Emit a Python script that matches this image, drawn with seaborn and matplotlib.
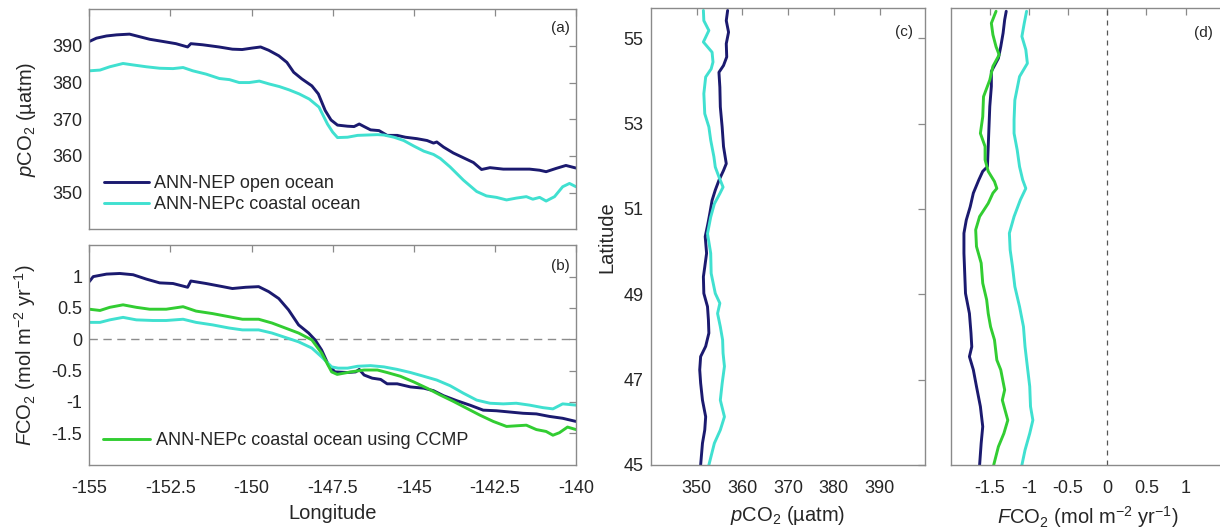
import numpy as np
import pandas as pd
import matplotlib
matplotlib.use("Agg")
import matplotlib.pyplot as plt
import seaborn as sns

# ---------------- data ----------------
# Panel (a): pCO2 along longitude
lon_open_a = [-155.00, -154.78, -154.47, -154.16, -153.76, -153.45, -153.14, -152.73, -152.33, -151.97,
              -151.87, -151.51, -151.00, -150.59, -150.29, -149.98, -149.72, -149.47, -149.16, -148.91,
              -148.70, -148.45, -148.14, -147.94, -147.73, -147.55, -147.35, -147.04, -146.84, -146.68,
              -146.53, -146.33, -146.07, -145.82, -145.51, -145.26, -144.90, -144.59, -144.39, -144.29,
              -144.08, -143.78, -143.47, -143.16, -142.91, -142.65, -142.24, -141.84, -141.43, -141.12,
              -140.92, -140.61, -140.31, -140.00]
pco2_open_a = [391.2, 392.1, 392.7, 393.0, 393.2, 392.5, 391.8, 391.2, 390.6, 389.7,
               390.6, 390.3, 389.7, 389.1, 389.0, 389.4, 389.7, 388.8, 387.3, 385.5,
               382.8, 381.0, 379.1, 376.9, 372.4, 369.8, 368.4, 368.1, 368.0, 368.7,
               368.0, 367.1, 366.9, 365.6, 365.6, 365.1, 364.7, 364.2, 363.5, 363.8,
               362.4, 360.8, 359.5, 358.2, 356.3, 356.8, 356.4, 356.4, 356.4, 356.1,
               355.7, 356.6, 357.4, 356.7]
lon_coast_a = [-155.00, -154.67, -154.37, -153.96, -153.65, -153.24, -152.83, -152.42, -152.11, -151.81,
               -151.40, -150.99, -150.68, -150.38, -150.07, -149.76, -149.45, -149.14, -148.84, -148.53,
               -148.22, -147.92, -147.66, -147.50, -147.35, -147.04, -146.73, -146.43, -146.12, -145.92,
               -145.61, -145.31, -145.00, -144.69, -144.39, -144.18, -143.88, -143.47, -143.06, -142.76,
               -142.45, -142.14, -141.84, -141.53, -141.33, -141.12, -140.92, -140.66, -140.41, -140.20,
               -140.00]
pco2_coast_a = [383.2, 383.4, 384.3, 385.2, 384.8, 384.3, 383.9, 383.8, 384.1, 383.2,
                382.3, 381.1, 380.8, 380.0, 380.0, 380.4, 379.6, 378.9, 378.0, 376.9,
                375.5, 373.3, 368.7, 366.5, 365.0, 365.1, 365.6, 365.7, 365.8, 365.7,
                365.1, 364.2, 362.7, 361.3, 360.4, 359.3, 357.0, 353.4, 350.3, 349.1,
                348.7, 348.0, 348.5, 348.9, 348.2, 348.7, 347.7, 348.9, 351.6, 352.5,
                351.6]

# Panel (b): FCO2 along longitude
lon_open_b = [-155.00, -154.88, -154.47, -154.06, -153.65, -153.24, -152.83, -152.42, -151.97, -151.87,
              -151.40, -150.89, -150.59, -150.18, -149.78, -149.47, -149.16, -148.86, -148.55, -148.24,
              -148.04, -147.84, -147.63, -147.43, -147.04, -146.79, -146.68, -146.53, -146.28, -146.02,
              -145.82, -145.51, -145.10, -144.69, -144.39, -144.08, -143.67, -143.27, -142.86, -142.45,
              -142.04, -141.63, -141.22, -140.82, -140.41, -140.00]
fco2_open_b = [0.92, 1.00, 1.04, 1.05, 1.03, 0.96, 0.90, 0.89, 0.83, 0.93,
               0.89, 0.84, 0.81, 0.83, 0.84, 0.76, 0.65, 0.47, 0.23, 0.10,
               -0.01, -0.17, -0.41, -0.52, -0.53, -0.52, -0.48, -0.57, -0.62, -0.64,
               -0.71, -0.71, -0.76, -0.78, -0.82, -0.90, -0.98, -1.05, -1.13, -1.14,
               -1.16, -1.18, -1.19, -1.23, -1.26, -1.31]
lon_coast_b = [-155.00, -154.67, -154.37, -153.96, -153.55, -153.04, -152.63, -152.11, -151.71, -151.20,
               -150.69, -150.28, -149.78, -149.37, -148.96, -148.55, -148.14, -147.84, -147.53, -147.33,
               -147.04, -146.73, -146.33, -145.92, -145.51, -145.10, -144.69, -144.29, -143.88, -143.47,
               -143.06, -142.65, -142.24, -141.84, -141.43, -141.02, -140.71, -140.41, -140.00]
fco2_coast_b = [0.27, 0.27, 0.31, 0.35, 0.31, 0.30, 0.30, 0.32, 0.27, 0.23,
                0.18, 0.15, 0.15, 0.10, 0.03, -0.04, -0.14, -0.28, -0.44, -0.46,
                -0.46, -0.43, -0.42, -0.44, -0.48, -0.53, -0.59, -0.65, -0.74, -0.86,
                -0.97, -1.02, -1.03, -1.02, -1.05, -1.09, -1.11, -1.03, -1.05]
lon_ccmp_b = [-155.00, -154.67, -154.37, -153.96, -153.55, -153.14, -152.63, -152.11, -151.71, -151.20,
              -150.69, -150.28, -149.78, -149.37, -148.96, -148.55, -148.14, -147.84, -147.53, -147.36,
              -146.94, -146.53, -146.12, -145.82, -145.41, -145.00, -144.59, -144.18, -143.78, -143.37,
              -142.96, -142.55, -142.14, -141.84, -141.53, -141.22, -140.92, -140.71, -140.51, -140.26,
              -140.00]
fco2_ccmp_b = [0.48, 0.46, 0.51, 0.55, 0.51, 0.48, 0.48, 0.52, 0.45, 0.41,
               0.36, 0.32, 0.32, 0.26, 0.18, 0.10, -0.01, -0.22, -0.52, -0.56,
               -0.52, -0.49, -0.49, -0.53, -0.59, -0.68, -0.78, -0.89, -0.99, -1.10,
               -1.21, -1.31, -1.39, -1.38, -1.37, -1.44, -1.47, -1.53, -1.49, -1.40,
               -1.44]

# Panel (c): pCO2 along latitude
lat_open_c = [55.65, 55.41, 55.14, 54.87, 54.56, 54.36, 54.20, 53.85, 53.39, 52.92,
              52.46, 52.06, 51.90, 51.67, 51.44, 51.20, 50.89, 50.66, 50.35, 49.96,
              49.64, 49.41, 49.02, 48.71, 48.40, 48.09, 47.78, 47.54, 47.23, 46.92,
              46.52, 46.13, 45.82, 45.51, 45.00]
pco2_open_c = [356.8, 356.5, 357.0, 356.5, 356.6, 355.9, 354.9, 355.1, 355.2, 355.6,
               355.9, 356.5, 355.9, 354.9, 354.1, 353.4, 352.9, 352.5, 351.9, 352.2,
               351.8, 351.5, 351.6, 352.4, 352.6, 352.7, 352.0, 350.9, 350.7, 350.9,
               351.3, 352.0, 351.8, 351.3, 350.9]
lat_coast_c = [55.65, 55.41, 55.18, 54.91, 54.67, 54.44, 54.28, 54.09, 53.70, 53.23,
               52.92, 52.61, 52.22, 51.98, 51.75, 51.51, 51.36, 51.12, 50.81, 50.42,
               49.96, 49.49, 49.02, 48.79, 48.55, 48.24, 47.93, 47.62, 47.31, 46.91,
               46.52, 46.13, 45.82, 45.51, 45.00]
pco2_coast_c = [351.5, 351.6, 352.7, 351.5, 353.4, 353.6, 353.2, 352.0, 351.6, 351.8,
                352.7, 353.1, 353.8, 354.1, 354.9, 355.8, 355.1, 353.9, 353.1, 352.4,
                353.1, 353.2, 354.1, 355.1, 354.6, 355.2, 355.7, 355.8, 356.1, 355.6,
                355.2, 356.1, 355.2, 353.9, 352.7]

# Panel (d): FCO2 along latitude
lat_open_d = [55.63, 55.43, 55.12, 54.80, 54.53, 54.22, 53.87, 53.40, 52.93, 52.46,
              51.99, 51.88, 51.68, 51.37, 51.05, 50.74, 50.43, 49.96, 49.49, 49.02,
              48.55, 48.09, 47.77, 47.54, 47.23, 46.84, 46.37, 45.90, 45.51, 45.00]
fco2_open_d = [-1.29, -1.31, -1.33, -1.36, -1.39, -1.48, -1.48, -1.50, -1.51, -1.52,
               -1.53, -1.59, -1.64, -1.71, -1.75, -1.80, -1.83, -1.83, -1.82, -1.81,
               -1.76, -1.74, -1.73, -1.76, -1.71, -1.67, -1.62, -1.59, -1.61, -1.63]
lat_ccmp_d = [55.63, 55.35, 55.08, 54.80, 54.61, 54.34, 54.02, 53.63, 53.16, 52.77,
              52.46, 52.15, 51.88, 51.64, 51.48, 51.37, 51.13, 50.82, 50.51, 50.12,
              49.73, 49.26, 48.87, 48.55, 48.24, 47.93, 47.46, 47.23, 46.76, 46.52,
              46.05, 45.74, 45.43, 45.00]
fco2_ccmp_d = [-1.42, -1.48, -1.46, -1.42, -1.38, -1.46, -1.50, -1.58, -1.59, -1.62,
               -1.56, -1.56, -1.52, -1.44, -1.41, -1.46, -1.52, -1.63, -1.68, -1.67,
               -1.61, -1.59, -1.54, -1.52, -1.49, -1.44, -1.41, -1.36, -1.31, -1.34,
               -1.27, -1.32, -1.39, -1.45]
lat_coast_d = [55.63, 55.35, 55.04, 54.73, 54.41, 54.10, 53.55, 53.09, 52.77, 52.38,
               51.99, 51.68, 51.48, 51.21, 50.82, 50.43, 50.04, 49.65, 49.18, 48.71,
               48.24, 47.77, 47.30, 46.84, 46.37, 46.05, 45.74, 45.35, 45.00]
fco2_coast_d = [-1.03, -1.06, -1.09, -1.04, -1.02, -1.12, -1.18, -1.19, -1.19, -1.15,
                -1.12, -1.08, -1.04, -1.11, -1.19, -1.25, -1.24, -1.21, -1.18, -1.12,
                -1.07, -1.05, -1.02, -0.99, -0.98, -0.95, -0.99, -1.05, -1.09]

lon_ticks = [-155, -152.5, -150, -147.5, -145, -142.5, -140]
lon_ticklabels = ["-155", "-152.5", "-150", "-147.5", "-145", "-142.5", "-140"]
pco2_ticks = [350, 360, 370, 380, 390]
fco2_ticks_b = [-1.5, -1, -0.5, 0, 0.5, 1]
fco2_ticklabels_b = ["-1.5", "-1", "-0.5", "0", "0.5", "1"]
lat_ticks = [45, 47, 49, 51, 53, 55]
fco2_ticks_d = [-1.5, -1, -0.5, 0, 0.5, 1]
fco2_ticklabels_d = ["-1.5", "-1", "-0.5", "0", "0.5", "1"]

label_open = "ANN-NEP open ocean"
label_coast = "ANN-NEPc coastal ocean"
label_ccmp = "ANN-NEPc coastal ocean using CCMP"

# ---------------- style ----------------
sns.set_style("white")
plt.rcParams["font.family"] = ["Liberation Sans", "DejaVu Sans"]
plt.rcParams["mathtext.fontset"] = "custom"
plt.rcParams["mathtext.rm"] = "Liberation Sans"
plt.rcParams["mathtext.it"] = "Liberation Sans:italic"
plt.rcParams["mathtext.bf"] = "Liberation Sans:bold"
plt.rcParams["axes.unicode_minus"] = False

C_OPEN = "#1b1a6f"
C_COAST = "#40e0d0"
C_CCMP = "#32cd32"
TXT = "#262626"
SPINE = "#8a8a8a"
LW = 2.1
FS = 13
FSL = 14.5

fig = plt.figure(figsize=(12.2, 5.31), dpi=100)
ax_a = fig.add_axes([0.0732, 0.5682, 0.3989, 0.4145])
ax_b = fig.add_axes([0.0732, 0.1249, 0.3989, 0.4132])
ax_c = fig.add_axes([0.5334, 0.1243, 0.2251, 0.8601])
ax_d = fig.add_axes([0.7792, 0.1243, 0.2247, 0.8601])


def style(ax, right=True):
    for s in ax.spines.values():
        s.set_color(SPINE)
        s.set_linewidth(1.0)
    ax.tick_params(direction="in", top=True, right=right, length=5, width=0.9,
                   color=SPINE, labelcolor=TXT, labelsize=FS)
    ax.tick_params(axis="x", pad=11)
    ax.tick_params(axis="y", pad=5)


# (a)
sns.lineplot(x=lon_open_a, y=pco2_open_a, ax=ax_a, color=C_OPEN, lw=LW, label=label_open,
             sort=False, estimator=None)
sns.lineplot(x=lon_coast_a, y=pco2_coast_a, ax=ax_a, color=C_COAST, lw=LW, label=label_coast,
             sort=False, estimator=None)
ax_a.set_xlim(-155, -140)
ax_a.set_ylim(340, 400)
ax_a.set_xticks(lon_ticks)
ax_a.set_xticklabels([])
ax_a.set_yticks(pco2_ticks)
ax_a.set_ylabel(r"$\mathit{p}$CO$_2$ (µatm)", fontsize=FSL, color=TXT)
ax_a.yaxis.set_label_coords(-0.105, 0.5)
style(ax_a)
ax_a.legend(loc="center left", bbox_to_anchor=(0.03, 0.16), frameon=False, fontsize=FS,
            handlelength=2.5, handletextpad=0.3, labelspacing=0.2, borderpad=0, borderaxespad=0,
            labelcolor=TXT)
ax_a.text(0.988, 0.915, "(a)", transform=ax_a.transAxes, ha="right", va="center",
          fontsize=11, color=TXT)

# (b)
ax_b.axhline(0, color="#8c8c8c", lw=1.0, ls=(0, (6, 4)), zorder=1)
sns.lineplot(x=lon_open_b, y=fco2_open_b, ax=ax_b, color=C_OPEN, lw=LW, sort=False, estimator=None)
sns.lineplot(x=lon_coast_b, y=fco2_coast_b, ax=ax_b, color=C_COAST, lw=LW, sort=False, estimator=None)
sns.lineplot(x=lon_ccmp_b, y=fco2_ccmp_b, ax=ax_b, color=C_CCMP, lw=LW, label=label_ccmp,
             sort=False, estimator=None)
ax_b.set_xlim(-155, -140)
ax_b.set_ylim(-2, 1.5)
ax_b.set_xticks(lon_ticks)
ax_b.set_xticklabels(lon_ticklabels)
ax_b.set_yticks(fco2_ticks_b)
ax_b.set_yticklabels(fco2_ticklabels_b)
ax_b.set_xlabel("Longitude", fontsize=FSL, color=TXT)
ax_b.set_ylabel(r"$\mathit{F}$CO$_2$ (mol m$^{-2}$ yr$^{-1}$)", fontsize=FSL, color=TXT)
ax_b.yaxis.set_label_coords(-0.105, 0.5)
ax_b.xaxis.set_label_coords(0.5, -0.18)
style(ax_b)
ax_b.legend(loc="center left", bbox_to_anchor=(0.029, 0.108), frameon=False, fontsize=FS,
            handlelength=2.6, handletextpad=0.3, borderpad=0, borderaxespad=0, labelcolor=TXT)
ax_b.text(0.988, 0.906, "(b)", transform=ax_b.transAxes, ha="right", va="center",
          fontsize=11, color=TXT)

# (c)
sns.lineplot(x=pco2_open_c, y=lat_open_c, ax=ax_c, color=C_OPEN, lw=LW, sort=False, estimator=None)
sns.lineplot(x=pco2_coast_c, y=lat_coast_c, ax=ax_c, color=C_COAST, lw=LW, sort=False, estimator=None)
ax_c.set_xlim(340, 400)
ax_c.set_ylim(45, 55.7)
ax_c.set_xticks(pco2_ticks)
ax_c.set_yticks(lat_ticks)
ax_c.set_xlabel(r"$\mathit{p}$CO$_2$ (µatm)", fontsize=FSL, color=TXT)
ax_c.set_ylabel("Latitude", fontsize=FSL, color=TXT)
ax_c.yaxis.set_label_coords(-0.125, 0.5)
ax_c.xaxis.set_label_coords(0.5, -0.085)
style(ax_c)
ax_c.text(0.955, 0.947, "(c)", transform=ax_c.transAxes, ha="right", va="center",
          fontsize=11, color=TXT)

# (d)
ax_d.axvline(0, color="#555555", lw=0.9, ls=(0, (4, 4)), zorder=1)
sns.lineplot(x=fco2_open_d, y=lat_open_d, ax=ax_d, color=C_OPEN, lw=LW, sort=False, estimator=None)
sns.lineplot(x=fco2_ccmp_d, y=lat_ccmp_d, ax=ax_d, color=C_CCMP, lw=LW, sort=False, estimator=None)
sns.lineplot(x=fco2_coast_d, y=lat_coast_d, ax=ax_d, color=C_COAST, lw=LW, sort=False, estimator=None)
ax_d.set_xlim(-2, 1.5)
ax_d.set_ylim(45, 55.7)
ax_d.set_xticks(fco2_ticks_d)
ax_d.set_xticklabels(fco2_ticklabels_d)
ax_d.set_yticks(lat_ticks)
ax_d.set_yticklabels([])
ax_d.set_xlabel(r"$\mathit{F}$CO$_2$ (mol m$^{-2}$ yr$^{-1}$)", fontsize=FSL, color=TXT)
ax_d.xaxis.set_label_coords(0.5, -0.085)
style(ax_d, right=False)
ax_d.text(0.958, 0.945, "(d)", transform=ax_d.transAxes, ha="right", va="center",
          fontsize=11, color=TXT)

fig.savefig("out.png", dpi=100)
